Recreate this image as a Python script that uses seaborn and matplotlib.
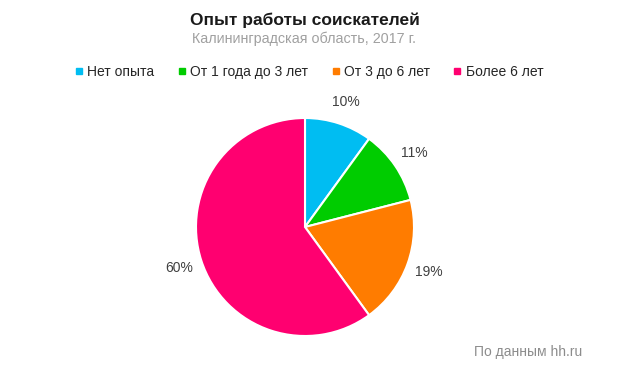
import matplotlib
matplotlib.use("Agg")
import matplotlib.pyplot as plt
from matplotlib.lines import Line2D
import seaborn as sns

categories = ["Нет опыта", "От 1 года до 3 лет", "От 3 до 6 лет", "Более 6 лет"]
values = [10, 11, 19, 60]
colors = ["#00BDF2", "#00CC00", "#FF7C00", "#FF0070"]

title = "Опыт работы соискателей"
subtitle = "Калининградская область, 2017 г."
footer = "По данным hh.ru"

sns.set_theme(style="white")
plt.rcParams['font.family'] = ['Liberation Sans', 'DejaVu Sans']
palette = sns.color_palette(colors)

fig = plt.figure(figsize=(6.2, 3.78), dpi=100)
W, H = 620, 378
cx, cy, r = 305, 227, 109
ax = fig.add_axes([(cx - r) / W, (H - cy - r) / H, 2 * r / W, 2 * r / H])
wedges, texts, autotexts = ax.pie(
    values, colors=palette, startangle=90, counterclock=False,
    autopct=lambda p: f"{p:.0f}%", pctdistance=1.21, radius=1,
    wedgeprops=dict(edgecolor="white", linewidth=1.5),
    textprops=dict(fontsize=10, color="#404040"))
ax.set_xlim(-1, 1)
ax.set_ylim(-1, 1)
ax.set_aspect("equal")
ax.axis("off")

fig.text(305 / W, 1 - 20 / H, title, ha="center", va="center",
         fontsize=12.5, fontweight="bold", color="#1a1a1a")
fig.text(304 / W, 1 - 39 / H, subtitle, ha="center", va="center",
         fontsize=10.3, color="#a0a0a0")
fig.text(528 / W, 1 - 352 / H, footer, ha="center", va="center",
         fontsize=10, color="#8c8c8c")

handles = [Line2D([0], [0], marker="s", linestyle="", markersize=4.5,
                  markerfacecolor=c, markeredgecolor=c) for c in palette]
fig.legend(handles, categories, loc="center", bbox_to_anchor=(309 / W, 1 - 72 / H),
           ncol=4, frameon=False, fontsize=10, handlelength=0.6,
           handletextpad=0.3, columnspacing=1.67, labelcolor="#262626")

fig.savefig("out.png", dpi=100, facecolor="white")
